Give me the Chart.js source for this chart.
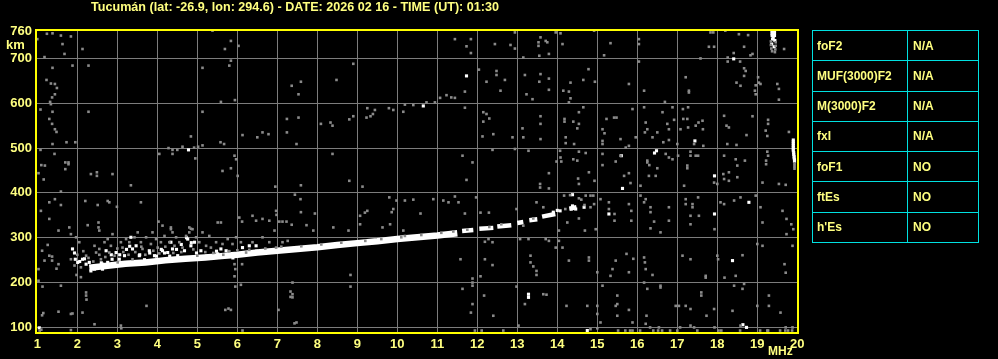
<!DOCTYPE html>
<html><head><meta charset="utf-8">
<script src="https://cdn.jsdelivr.net/npm/chart.js@4.4.0/dist/chart.umd.min.js"></script>
<style>
html,body{margin:0;padding:0;background:#000;width:998px;height:359px;overflow:hidden}
#c{position:absolute;left:0;top:0}
#params{position:absolute;left:812px;top:30px;width:166px;height:213px;border-collapse:collapse;table-layout:fixed}
#params td{border:1px solid #00e0e0;color:#ffff80;font:bold 12px "Liberation Sans",Arial,sans-serif;padding:0 0 0 4px;height:29px;white-space:nowrap}
#params td.v{padding-left:5px}
</style></head>
<body>
<canvas id="c" width="998" height="359"></canvas>
<table id="params"><colgroup><col style="width:95px"><col style="width:71px"></colgroup><tbody id="pb"></tbody></table>
<script>
// ---- data ----
const titleText = 'Tucumán (lat: -26.9, lon: 294.6) - DATE: 2026 02 16 - TIME (UT): 01:30';
const xTickValues = [1,2,3,4,5,6,7,8,9,10,11,12,13,14,15,16,17,18,19,20];
const yTickValues = [100,200,300,400,500,600,700,760];
const paramNames = ['foF2','MUF(3000)F2','M(3000)F2','fxI','foF1','ftEs',"h'Es"];
const paramValues = ['N/A','N/A','N/A','N/A','NO','NO','NO'];

// main F-trace (frequency MHz, virtual height km); null = gap
const traceF = [2.3,2.7,3.2,3.7,4.2,4.7,5.2,5.6,6.0,6.5,7.0,7.5,8.0,8.5,9.0,9.5,10.0,10.5,11.0,11.5,null,11.62,11.9,null,12.05,12.4,null,12.5,12.85,null,13.0,13.15,null,13.3,13.5,null,13.62,13.95,null,14.3,14.48];
const traceH = [233,237,242,245,250,253,256,259,262,267,271,275,279,284,288,292,297,301,305,310,null,315,317,null,320,322,null,325,328,null,333,335,null,339,341,null,347,353,null,365,368];

// strong (white) echoes
const echoWhite = [[1.88,275],[1.93,266],[1.95,252],[2.01,245],[2.13,252],[2.22,241],[2.3,245],[2.34,226],[2.43,230],[2.51,234],[2.63,241],[2.63,230],[2.76,245],[2.87,252],[2.72,271],[2.97,267],[3.05,252],[3.18,260],[3.34,301],[3.38,275],[3.47,282],[3.55,260],[3.8,271],[3.93,260],[4.13,271],[4.26,267],[4.34,290],[4.38,275],[4.51,260],[4.68,271],[4.76,297],[4.84,282],[4.93,290],[5.09,271],[5.3,260],[5.51,264],[5.59,275],[5.72,271],[5.84,260],[6.13,278],[6.3,282],[6.47,282],
[2.06,247],[2.18,253],[2.48,232],[2.6,244],[2.85,262],[3.06,262],[3.23,274],[3.31,281],[3.56,262],[3.68,251],[3.81,266],[3.98,259],[4.1,274],[4.18,266],[4.31,259],[4.48,274],[4.6,285],[4.73,300],[4.85,289],[4.98,266],[5.1,255],[5.23,259],[5.39,255],[5.48,270],[5.73,262],[5.89,255],[6.02,262],[6.23,266],[6.48,270],
[4.78,496],[11.73,661],[10.65,594],[18.41,699],[15.6,483],[16.48,494],[16.43,489],[17.44,516],[15.63,410],[17.93,438],[14.38,396],[15.29,353],[17.93,353],[18.79,379],[18.38,249],[18.64,106],[14.75,93],[14.07,360],[14.35,364],[14.38,371],[14.46,364],[14.67,368],[13.9,357],[14.0,361],[13.28,174],[13.28,167],[1.05,99],[18.73,100],
[19.37,763],[19.43,763],[19.37,759],[19.43,759],[19.37,755],[19.43,755],[19.37,751],[19.43,751],[19.4,747],[19.38,743],[19.44,740],[19.36,732],[19.42,726],
[19.9,518],[19.9,514],[19.9,510],[19.9,506],[19.9,502],[19.9,498],[19.9,494],[19.91,490],[19.91,486],[19.92,482],[19.92,478],[19.93,474],[19.93,470]];

// weak (grey) echoes and noise
const echoGrey = [[1.24,755],[1.38,756],[1.59,751],[1.84,749],[1.63,732],[1.68,710],[1.18,703],[2.13,721],[1.0,743],[5.38,762],[5.84,739],[6.03,728],[5.69,721],[5.84,695],[5.8,684],[1.38,679],[1.88,684],[2.28,684],[5.13,679],
[1.23,652],[1.34,644],[1.44,643],[1.49,634],[1.44,620],[1.37,613],[1.32,603],[1.34,598],
[1.08,586],[1.38,581],[1.3,565],[1.37,554],[1.44,542],[1.48,536],[1.38,509],[1.73,513],[1.95,513],
[2.28,581],[5.13,581],[5.59,603],[5.94,607],[4.84,526],[6.13,529],[6.5,524],[6.63,535],[6.78,531],[7.24,565],[7.24,535],[5.58,513],[5.67,509],
[4.28,500],[4.38,496],[4.5,496],[4.63,503],[4.92,501],[5.02,503],[5.13,506],[4.05,487],[4.38,487],[4.95,477],
[1.08,496],[1.1,462],[1.19,461],[1.03,444],[1.16,430],[1.43,487],[1.7,468],[1.78,468],[1.78,464],[1.7,453],[2.34,442],[2.49,446],[2.49,438],[2.88,442],[3.34,417],
[5.93,483],[5.97,475],[5.84,455],[5.63,449],[6.01,438],[6.95,414],
[1.59,403],[1.3,379],[1.44,386],[1.59,373],[1.09,360],[1.3,342],[1.53,316],[1.8,323],[2.2,382],[2.76,382],[2.8,379],[2.51,373],[2.99,369],[3.59,379],[2.26,328],[2.53,334],[2.53,323],[2.55,316],[4.03,336],[4.13,327],[4.34,323],[4.38,312],[4.8,323],[4.84,320],[5.51,334],[5.59,334],[6.05,345],[6.12,336],[6.38,349],[6.47,338],[6.63,342],[6.8,338],[6.97,360],[6.98,351],[7.05,336],[7.13,336],[7.23,336],[6.93,316],
[1.03,204],[1.59,193],[2.22,178],[2.22,171],[2.23,162],[1.84,130],[1.53,135],[1.12,127],[2.13,133],[2.43,107],[3.09,104],[3.73,148],[5.78,142],[5.84,139],[5.95,191],[6.09,195],[7.03,139],[6.13,93],[1.48,231],[1.53,241],[1.37,249],[1.37,258],[1.12,271],[1.03,230],[1.18,249],[1.26,284],[1.3,260],[1.98,217],[2.09,212],[5.95,230],[5.93,214],[5.93,241],[6.12,241],[1.13,191],[1.88,131],[1.15,132],[3.1,98],[1.84,94],[5.7,139],[7.33,180],[7.38,174],[7.33,168],[7.38,200],[7.43,109],[1.06,93],[1.1,95],
[1.84,308],[1.97,301],[2.05,290],[1.84,252],[1.93,238],[2.09,234],[2.22,260],[2.43,282],[2.47,267],[2.55,275],[2.59,252],[2.68,290],[2.76,297],[2.84,282],[2.88,308],[2.93,260],[3.01,245],[3.09,290],[3.13,278],[3.22,297],[3.3,290],[3.38,252],[3.43,301],[3.51,312],[3.59,290],[3.63,275],[3.72,301],[3.84,286],[3.88,312],[3.97,297],[4.01,278],[4.09,290],[4.18,304],[4.3,290],[4.34,319],[4.43,282],[4.47,301],[4.55,290],[4.63,278],[4.72,304],[4.8,312],[4.88,319],[4.97,301],[5.05,290],[5.13,312],[5.22,282],[5.3,304],[5.34,278],[5.47,290],[5.63,286],[5.76,297],[5.88,286],[5.97,301],[6.09,290],[6.22,267],[6.38,290],[6.63,301],[6.8,290],[6.97,278],[7.13,290],[7.26,293],
[2.0,262],[2.15,270],[2.28,255],[2.4,247],[2.55,262],[2.7,257],[2.8,267],[3.0,276],[3.15,268],[3.28,262],[3.45,268],[3.6,280],[3.7,262],[3.9,271],[4.05,265],[4.2,280],[4.4,266],[4.6,268],[4.9,274],[5.0,260],[5.2,268],[5.4,266],[5.65,262],[5.8,270],[6.0,272],[6.3,273],[6.7,276],[7.1,280],
[11.44,743],[11.73,727],[11.84,743],[11.84,712],[12.44,732],[12.83,730],[12.94,758],[12.94,722],[13.15,702],[13.53,736],[13.53,728],[13.55,706],[13.58,747],[8.9,688],[8.48,652],[7.59,648],[7.36,639],[7.53,620],[12.04,675],[12.48,672],[12.48,663],[12.23,648],[12.69,652],[12.58,628],[13.19,663],[13.55,648],[13.23,620],[13.38,609],[13.58,665],
[10.73,602],[10.94,602],[11.07,612],[11.23,618],[11.35,613],[11.44,612],[11.69,626],[10.4,596],[10.19,597],[9.25,589],[9.44,585],[9.39,576],[9.23,568],[9.33,571],[9.79,589],[9.9,585],[10.15,581],[8.9,571],[8.8,564],[8.33,557],[8.38,550],[8.09,554],[7.53,568],[7.48,509],
[11.69,590],[12.15,580],[12.3,566],[12.15,559],[12.23,576],[12.4,531],[12.13,526],[12.88,524],[13.13,544],[13.15,524],[13.58,571],[13.58,554],[13.58,520],
[8.38,487],[11.63,483],[11.88,468],[11.73,429],[13.57,420],[13.57,412],[12.38,496],[12.94,498],[13.28,494],[8.8,427],[9.13,414],[7.59,417],[7.44,396],[7.58,386],[7.94,354],[7.59,357],[7.36,329],[7.73,328],[7.9,316],[8.4,323],[8.78,316],[9.07,330],[9.07,349],[9.19,356],[9.25,360],[9.63,323],[9.8,390],[9.9,364],[9.86,357],[9.98,383],[10.19,383],[10.4,385],[10.58,354],[10.9,386],[11.15,383],[11.28,379],[11.44,392],[11.53,379],[11.69,354],[11.97,390],[12.08,356],[12.29,356],[12.98,364],[13.15,327],[13.48,379],[13.65,368],[9.82,330],[10.15,316],[10.19,304],
[12.38,290],[12.19,291],[12.28,297],[13.07,297],[13.28,297],[11.58,252],[12.38,239],[12.19,252],[13.33,260],[13.33,245],[13.4,236],[13.48,226],[13.48,217],[11.88,209],[11.88,200],[11.88,193],[12.08,214],[11.63,186],[12.17,171],[11.88,152],[11.84,133],[12.4,126],[13.19,152],[13.65,174],[8.83,217],[8.83,191],[7.48,111],[7.38,167],[12.98,191],[13.03,104],[11.94,93],[12.11,93],[12.65,93],
[13.71,739],[13.75,736],[13.96,758],[14.08,756],[14.13,732],[13.79,710],[14.92,762],[15.33,734],[15.17,707],[16.04,743],[16.04,732],[16.04,693],[14.78,676],[14.33,646],[14.29,626],[14.15,628],[13.79,655],[13.79,630],[14.65,652],[14.94,648],[14.33,611],[15.79,643],[16.17,628],[16.17,591],[16.69,603],[17.21,658],[17.29,628],[17.29,624],[17.58,700],[17.83,758],[17.9,758],[17.79,726],[17.92,726],[18.26,702],[18.26,693],[18.41,712],[18.2,762],[18.54,754],[18.77,752],[18.67,726],[18.83,707],[18.88,710],[18.57,693],[18.67,678],[18.71,672],[18.48,646],[18.58,639],[18.67,661],[18.96,640],[19.02,658],[19.04,646],[19.08,643],[18.94,628],[18.96,620],[19.5,643],[19.54,632],[19.54,608],[19.67,721],
[14.18,565],[14.18,559],[14.29,602],[14.54,580],[14.54,554],[14.5,544],[14.4,559],[14.21,524],[14.21,511],[14.42,509],[14.65,591],[14.07,494],[14.08,479],[14.1,470],[14.54,492],[14.71,489],[14.4,475],[14.5,472],[14.52,432],[14.54,420],[13.98,470],[13.79,444],[13.79,410],[14.93,427],[14.79,446],[15.13,542],[15.13,516],[15.13,509],[15.18,533],[15.23,565],[15.42,568],[15.48,568],[15.58,520],[15.71,501],[15.79,505],[15.88,587],[15.96,524],[15.13,487],[15.13,462],[15.67,438],[15.79,444],[15.46,470],[15.58,483],[15.83,422],[16.08,416],[16.21,557],[16.25,542],[16.19,535],[16.38,524],[16.5,535],[16.63,580],[16.79,542],[16.75,554],[16.65,513],[16.79,518],[16.92,563],[16.88,591],[16.25,472],[16.3,462],[16.25,468],[16.5,455],[16.46,438],[16.29,438],[16.71,487],[16.79,479],[16.88,475],[17.0,509],[17.02,483],[17.08,542],[17.27,546],[17.46,550],[17.53,557],[17.63,561],[17.64,542],[17.14,587],[17.27,591],[17.15,565],[17.25,565],[17.42,509],[17.33,492],[17.33,483],[17.46,483],[17.52,483],[17.17,416],[17.25,455],[17.25,461],[17.65,505],[17.92,423],[18.0,420],[18.17,483],[18.17,431],[18.29,427],[18.23,550],[18.29,546],[18.17,572],[18.15,442],[18.29,446],[18.48,507],[18.25,509],[18.46,475],[18.5,461],[18.5,435],[18.73,529],[18.88,571],[18.69,472],[19.21,539],[19.25,527],[19.27,563],[19.27,554],[19.25,492],[19.27,483],[19.22,472],[19.22,464],[19.13,423],[19.54,420],[19.71,418],[19.79,536],
[14.17,394],[14.32,395],[14.54,388],[14.6,385],[14.71,394],[14.83,394],[14.9,394],[14.68,373],[14.83,368],[14.92,375],[14.04,316],[14.25,334],[14.54,343],[14.69,316],[14.96,319],[15.08,386],[15.29,379],[15.29,364],[15.43,353],[15.43,338],[15.79,375],[15.85,360],[15.85,338],[16.08,394],[16.21,386],[16.17,379],[16.33,368],[16.33,357],[16.42,336],[16.33,321],[16.58,312],[16.79,368],[16.79,338],[17.21,386],[17.21,375],[17.38,375],[17.52,390],[17.38,368],[17.33,349],[17.54,349],[17.33,330],[17.93,319],[18.08,379],[18.17,375],[18.42,383],[18.58,390],[18.96,394],[19.08,368],[19.13,334],[19.63,360],[19.73,342],[19.85,330],[19.9,319],[19.73,308],[13.71,297],[13.79,293],[14.04,293],[13.96,278],[14.13,278],[14.29,249],[14.79,256],[14.79,249],[15.0,223],[15.13,193],[15.46,249],[15.73,264],[15.9,253],[15.79,223],[15.38,230],[15.33,215],[16.17,256],[16.19,245],[16.21,230],[16.38,217],[16.17,200],[16.58,189],[17.13,260],[17.33,252],[17.71,211],[17.71,215],[18.0,260],[18.02,252],[18.18,211],[18.46,215],[18.63,261],[18.67,197],[19.0,286],[19.13,282],[19.68,241],[19.71,222],[19.88,282],
[13.73,173],[14.23,148],[14.75,148],[15.0,148],[15.0,130],[15.08,111],[15.0,98],[14.83,96],[15.5,171],[15.5,152],[15.5,126],[15.46,148],[15.79,139],[15.88,111],[15.88,93],[16.25,186],[16.23,126],[16.21,108],[16.54,100],[16.58,193],[16.96,148],[17.04,148],[17.21,148],[17.33,141],[17.33,104],[17.6,178],[17.6,171],[17.73,126],[17.92,141],[17.93,100],[18.1,93],[18.38,137],[18.58,104],[18.42,193],[18.63,186],[19.0,148],[19.29,171],[19.29,148],[19.58,133],[19.71,100],[19.88,100],
[15.52,93],[15.7,93],[15.82,93],[16.07,93],[16.4,93],[16.52,93],[16.62,93],[16.82,93],[17.0,93],[17.5,93],[18.03,93],[18.57,93],[19.07,93],[19.25,93],[19.27,93],[19.57,93],[19.7,93],[19.77,93],[19.87,93],[16.32,100],[17.07,100],[17.42,100],
[19.34,738],[19.46,736],[19.34,730],[19.46,728],[19.35,722],[19.45,720],[19.37,716],[19.44,714],[19.93,466],[19.93,462],[19.93,458],[19.93,454],
[7.6,281],[8.1,285],[8.6,289],[9.2,293],[9.6,297],[10.1,301],[10.6,306],[11.1,311],[11.4,314],[11.75,318],[12.3,324],[12.6,330],[13.4,343],[14.2,364]];

// ---- table ----
const pb = document.getElementById('pb');
paramNames.forEach((n,i)=>{
  const tr=document.createElement('tr');
  const a=document.createElement('td'); a.textContent=n;
  const b=document.createElement('td'); b.textContent=paramValues[i]; b.className='v';
  tr.appendChild(a); tr.appendChild(b); pb.appendChild(tr);
});

// ---- chart ----
const FONT = '"Liberation Sans", Arial, sans-serif';
const LABEL = '#ffff80';
const toXY = arr => arr.map(p=>({x:p[0], y:p[1]}));
const traceData = traceF.map((f,i)=> f===null ? {x:null,y:null} : {x:f,y:traceH[i]});

const deco = {
  id:'deco',
  afterDatasetsDraw(chart){
    const {ctx, chartArea:a} = chart;
    ctx.save();
    ctx.strokeStyle='#ffff00'; ctx.lineWidth=2;
    ctx.strokeRect(a.left, a.top, a.right-a.left, a.bottom-a.top);
    ctx.restore();
  },
  afterDraw(chart){
    const ctx = chart.ctx;
    ctx.save();
    ctx.fillStyle = LABEL;
    ctx.textBaseline='middle'; ctx.textAlign='left';
    ctx.font = 'bold 12.6px '+FONT;
    ctx.fillText(titleText, 91, 7.5, 408);
    ctx.font = 'bold 13px '+FONT;
    ctx.fillText('km', 6, 45.5);
    ctx.font = 'bold 12px '+FONT;
    ctx.fillText('MHz', 768, 352);
    ctx.restore();
  }
};

new Chart(document.getElementById('c'), {
  type:'scatter',
  data:{datasets:[
    {label:'weak', data:toXY(echoGrey), pointStyle:'rect', pointRadius:1.85, pointBorderWidth:0, backgroundColor:'#8a8a8a', borderColor:'#8a8a8a', showLine:false},
    {label:'trace', data:traceData, showLine:true, spanGaps:false, borderColor:'#ffffff', borderWidth:6.5, pointRadius:0, borderCapStyle:'butt', tension:0,
      segment:{borderWidth:c=> c.p0.parsed.x > 11.55 ? 4.5 : 6.5}},
    {label:'strong', data:toXY(echoWhite), pointStyle:'rect', pointRadius:2.2, pointBorderWidth:0, backgroundColor:'#ffffff', borderColor:'#ffffff', showLine:false}
  ]},
  options:{
    responsive:false, animation:false, devicePixelRatio:1,
    layout:{padding:{left:0, top:30, right:200, bottom:0}},
    plugins:{legend:{display:false}, tooltip:{enabled:false}, title:{display:false}},
    scales:{
      x:{type:'linear', min:0.9675, max:20.0175,
        afterBuildTicks:s=>{ s.ticks = xTickValues.map(v=>({value:v})); },
        afterFit:s=>{ s.height = 26; },
        ticks:{color:LABEL, font:{family:FONT, size:13, weight:'bold'}, padding:4, autoSkip:false, maxRotation:0, callback:v=>String(v)},
        grid:{color:c=> (c.tick && (c.tick.value===1||c.tick.value===20)) ? 'rgba(0,0,0,0)' : '#7c7c7c', lineWidth:1, drawTicks:false},
        border:{display:false}},
      y:{type:'linear', min:87.5, max:763.4,
        afterBuildTicks:s=>{ s.ticks = yTickValues.map(v=>({value:v})); },
        afterFit:s=>{ s.width = 36; },
        ticks:{color:LABEL, font:{family:FONT, size:13, weight:'bold'}, padding:4, autoSkip:false, callback:v=>String(v)},
        grid:{color:c=> (c.tick && c.tick.value===760) ? 'rgba(0,0,0,0)' : '#7c7c7c', lineWidth:1, drawTicks:false},
        border:{display:false}}
    }
  },
  plugins:[deco]
});
</script>
</body></html>
